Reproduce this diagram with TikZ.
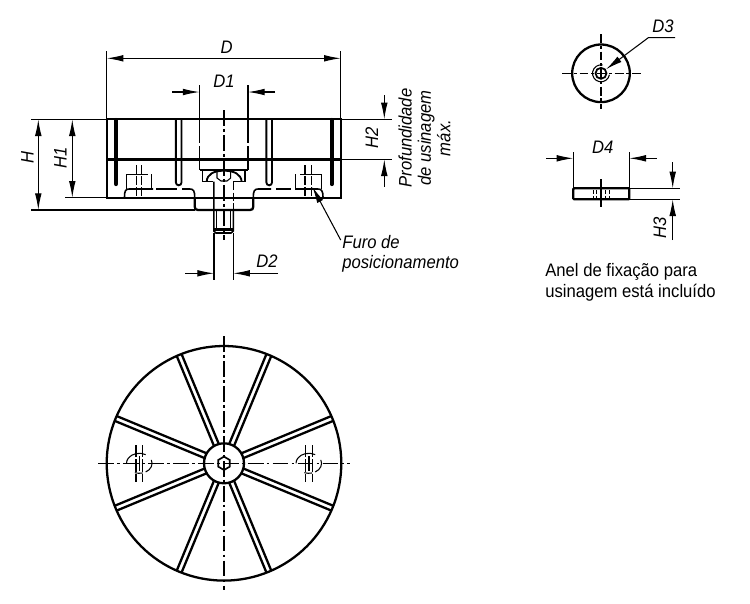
\documentclass[tikz,border=0pt]{standalone}
\usepackage{fontspec}
\setmainfont[FakeStretch=0.92]{Liberation Sans}
\usetikzlibrary{arrows.meta}

\tikzset{
  >={Latex[length=9.5pt,width=3.8pt]},
  thickline/.style={line width=1.3pt},
  ribline/.style={line width=1.3pt},
  thinline/.style={line width=0.6pt},
  dimline/.style={line width=0.6pt},
  centerline/.style={line width=0.65pt, dash pattern=on 9pt off 1.8pt on 1.6pt off 1.8pt},
  hiddenline/.style={line width=0.7pt, dash pattern=on 5pt off 1.2pt},
  label/.style={font=\fontsize{10.3}{11}\selectfont\itshape, inner sep=0pt},
  note/.style={font=\fontsize{10.3}{11.9}\selectfont, inner sep=0pt, align=left}
}

\begin{document}
\begin{tikzpicture}[x=0.02cm, y=-0.02cm]
    \useasboundingbox (0, 0) rectangle (750, 603);

    % side view
    \draw [thickline] (106.7, 119.3) rectangle (340.7, 197.7);
    \draw [line width=1.8pt] (106.7, 159.3) -- (340.7, 159.3);
    \draw [thickline] (194.7, 197.7) -- (194.7, 206.5) .. controls (194.7, 209) and (196, 210) .. (198, 210) -- (250, 210) .. controls (252, 210) and (253.3, 209) .. (253.3, 206.5) -- (253.3, 197.7);
    \draw [line width=2.4pt, line cap=round] (116, 120) -- (116, 184);
    \draw [line width=2.4pt, line cap=round] (331.7, 120) -- (331.7, 184);
    \foreach \xrib in {178.7, 269.2} {
      \draw [line width=1.05pt] (\xrib - 2.8, 119.3) -- (\xrib - 2.8, 182.5) arc [start angle=180, end angle=360, radius=0.056cm] -- (\xrib + 2.8, 119.3);
    }

    % pocket and screw
    \draw [thinline] (199.5, 85) -- (199.5, 143);
    \draw [thinline] (199.5, 146) -- (199.5, 170);
    \draw [thinline] (248, 85) -- (248, 143);
    \draw [thinline] (248, 146) -- (248, 170);
    \draw [thinline] (199.5, 170) -- (248, 170);
    \draw [line width=0.8pt] (202.7, 170) -- (202.7, 181.7) -- (213.3, 181.7);
    \draw [line width=0.8pt] (245, 170) -- (245, 181.7) -- (233.3, 181.7);
    \draw [line width=1.05pt] (206.7, 181.7) .. controls (207, 174) and (214, 170.7) .. (224, 170.7) .. controls (234, 170.7) and (241, 174) .. (241.7, 181.7);
    \draw [thinline] (217, 171) -- (217, 178) -- (221, 181) -- (227, 181) -- (230.7, 178) -- (230.7, 171);
    \draw [line width=0.9pt] (213.8, 181.7) -- (213.8, 231) -- (216, 233) -- (231, 233) -- (233.3, 231) -- (233.3, 210);
    \draw [hiddenline, line width=0.9pt] (233.3, 181.7) -- (233.3, 210);
    \draw [thickline] (214, 229.5) -- (233.3, 229.5);
    \draw [thinline] (216.6, 210) -- (216.6, 229);
    \draw [thinline] (230.7, 210) -- (230.7, 229);
    \draw [centerline] (224, 110) -- (224, 240);

    % recess under the plate
    \draw [line width=0.9pt] (124.5, 197) .. controls (124.5, 191) and (125.5, 189) .. (129, 189) -- (153, 189);
    \draw [line width=0.9pt] (156, 189) -- (177, 189);
    \draw [line width=0.9pt] (182, 189) -- (190, 189) .. controls (193.5, 189) and (194.7, 191) .. (194.7, 197);
    \draw [line width=0.9pt] (253.3, 197) .. controls (253.3, 191) and (254.5, 189) .. (258, 189) -- (271, 189);
    \draw [line width=0.9pt] (276, 189) -- (291, 189);
    \draw [line width=0.9pt] (295, 189) -- (318, 189) .. controls (321.5, 189) and (323, 191) .. (323, 197);

    % locating holes
    \draw [thinline] (126.7, 189) -- (126.7, 174.3) -- (148, 174.3);
    \draw [thinline] (151.7, 174.3) -- (151.7, 189);
    \draw [thinline] (295.7, 174.3) -- (295.7, 189);
    \draw [thinline] (300, 174.3) -- (321.7, 174.3) -- (321.7, 189);
    \foreach \xhole in {136.7, 141.7, 305, 311.7} {
      \draw [hiddenline, line width=0.75pt] (\xhole, 165) -- (\xhole, 197);
    }

    % dimensions of the side view
    \draw [dimline] (106.7, 51) -- (106.7, 119);
    \draw [dimline] (340.7, 51) -- (340.7, 119);
    \draw [dimline, <->] (106.7, 58.3) -- (340.7, 58.3);
    \node (labelD) [label] at (226.7, 47.3) {D};
    \draw [dimline, ->] (172, 92) -- (199.5, 92);
    \draw [dimline, ->] (275, 92) -- (248, 92);
    \node (labelDone) [label] at (224, 81.7) {D1};
    \draw [dimline] (31, 119.3) -- (106.7, 119.3);
    \draw [dimline] (31, 210) -- (195, 210);
    \draw [dimline] (65, 197.7) -- (106.7, 197.7);
    \draw [dimline, <->] (38.3, 119.3) -- (38.3, 210);
    \draw [dimline, <->] (72.3, 119.3) -- (72.3, 197.7);
    \node (labelH) [label, rotate=90] at (27.5, 157.5) {H};
    \node (labelHone) [label, rotate=90] at (60.5, 157.5) {H1};
    \draw [dimline] (214, 233) -- (214, 280);
    \draw [dimline] (233.3, 233) -- (233.3, 280);
    \draw [dimline, ->] (185, 273.3) -- (214, 273.3);
    \draw [dimline, ->] (278, 273.3) -- (233.3, 273.3);
    \node (labelDtwo) [label] at (267, 261.5) {D2};
    \draw [dimline] (341, 119.3) -- (391.7, 119.3);
    \draw [dimline] (341, 159.3) -- (391.7, 159.3);
    \draw [dimline, ->] (384.3, 95) -- (384.3, 119.3);
    \draw [dimline, ->] (384.3, 186.7) -- (384.3, 159.3);
    \node (labelHtwo) [label, rotate=90] at (371.7, 138) {H2};
    \node (depth) [label, rotate=90, align=center] at (424.5, 138) {Profundidade\\de usinagem\\máx.};

    \node (furo) [label, align=left, anchor=north west] at (342, 235.5) {Furo de\\posicionamento};
    \coordinate (furostart) at (340.7, 240);
    \coordinate (furotip) at (312.3, 186.7);
    \draw [dimline, ->] (furostart) -- (furotip);

    % ring, top view
    \draw [thickline] (601, 73.3) circle [radius=0.576cm];
    \draw [line width=1pt] (601, 73.3) circle [radius=0.11cm];
    \draw [thinline] (601, 73.3) ++ (8.4, 1.5) arc [start angle=-10, end angle=-280, radius=0.17cm];
    \draw [centerline, dash pattern=on 5pt off 1.7pt on 1.6pt off 1.7pt] (562, 73.3) -- (640.7, 73.3);
    \draw [centerline, dash pattern=on 5pt off 1.7pt on 1.6pt off 1.7pt] (601, 34) -- (601, 109);
    \coordinate (dthreetip) at (606, 69.3);
    \coordinate (dthreeknee) at (648.3, 37.7);
    \draw [dimline, ->] (675, 37.7) -- (dthreeknee) -- (dthreetip);
    \node (labelDthree) [label] at (663, 26.7) {D3};

    % ring, side view
    \draw [thickline, rounded corners=0.5pt] (573.3, 188.3) rectangle (629.3, 199.3);
    \draw [thinline] (601, 179) -- (601, 207);
    \foreach \xring in {593, 596.7, 605, 609} {
      \draw [hiddenline, line width=0.5pt, dash pattern=on 2.2pt off 1pt] (\xring, 190) -- (\xring, 198);
    }
    \draw [dimline] (573.3, 152) -- (573.3, 188);
    \draw [dimline] (629.3, 152) -- (629.3, 188);
    \draw [dimline, ->] (546, 158.3) -- (573.3, 158.3);
    \draw [dimline, ->] (656.7, 158.3) -- (629.3, 158.3);
    \node (labelDfour) [label] at (602.7, 147.3) {D4};
    \draw [dimline] (629.3, 188.3) -- (680, 188.3);
    \draw [dimline] (629.3, 199.3) -- (680, 199.3);
    \draw [dimline, ->] (672.7, 162.3) -- (672.7, 188.3);
    \draw [dimline, ->] (672.7, 240) -- (672.7, 199.3);
    \node (labelHthree) [label, rotate=90] at (660, 228) {H3};
    \node (ringnote) [note, anchor=north west] at (545, 263.5) {Anel de fixação para\\usinagem está incluído};

    % bottom view
    \draw [thickline] (224, 463.3) circle [radius=2.346cm];
    \draw [thickline] (224, 463.3) circle [radius=0.4cm];
    \foreach \ang in {22.5, 67.5, 112.5, 157.5, 202.5, 247.5, 292.5, 337.5} {
      \begin{scope}[shift={(224, 463.3)}, rotate=\ang]
        \draw [ribline] (19.6, 2.6) -- (117, 2.6);
        \draw [ribline] (19.6, -2.6) -- (117, -2.6);
      \end{scope}
    }
    \draw [line width=0.95pt] (224, 456.6) -- (229.8, 460) -- (229.8, 466.6) -- (224, 470) -- (218.2, 466.6) -- (218.2, 460) -- cycle;
    \draw [centerline] (98, 463.3) -- (350, 463.3);
    \draw [centerline] (224, 336) -- (224, 590);
    \foreach \xhole in {139.3, 308.8} {
      \draw [thinline] (\xhole + 6.4, 454.6) arc [start angle=60, end angle=180, x radius=0.256cm, y radius=0.2cm];
      \draw [thinline] (\xhole + 12, 459.9) arc [start angle=20, end angle=-60, x radius=0.256cm, y radius=0.2cm];
      \draw [thinline] (\xhole - 4.4, 472.7) arc [start angle=250, end angle=285, x radius=0.256cm, y radius=0.2cm];
      \draw [hiddenline, dash pattern=on 7pt off 1.2pt] (\xhole - 3.4, 445) -- (\xhole - 3.4, 482);
      \draw [hiddenline, dash pattern=on 7pt off 1.2pt] (\xhole + 3.4, 445) -- (\xhole + 3.4, 482);
      \draw [line width=0.9pt] (\xhole, 456) -- (\xhole, 471);
    }
\end{tikzpicture}
\end{document}
